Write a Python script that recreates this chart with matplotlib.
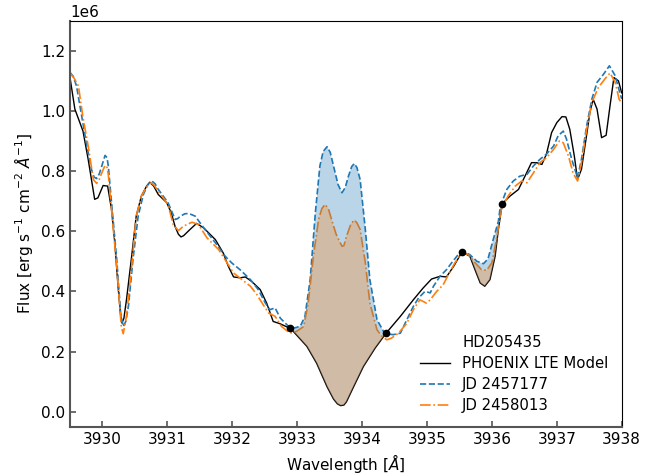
import numpy as np
import matplotlib
matplotlib.use("Agg")
import matplotlib.pyplot as plt

# PHOENIX LTE model (wavelength in Angstrom, flux in 1e6 units)
model_wl = [3929.50, 3929.575, 3929.70, 3929.78, 3929.88, 3929.93, 3930.01, 3930.08,
            3930.14, 3930.19, 3930.24, 3930.28, 3930.30, 3930.33, 3930.37, 3930.45, 3930.52, 3930.60,
            3930.68, 3930.73, 3930.79, 3930.86, 3930.99, 3931.06, 3931.12, 3931.17, 3931.21, 3931.25,
            3931.35, 3931.45, 3931.56, 3931.74, 3931.86, 3931.94, 3932.02, 3932.12, 3932.20, 3932.30,
            3932.43, 3932.53, 3932.63, 3932.74, 3932.89, 3932.94, 3933.15, 3933.30,
            3933.46, 3933.56, 3933.62, 3933.67, 3933.72, 3933.76, 3933.87, 3934.02, 3934.20, 3934.37,
            3934.59, 3934.79, 3934.94, 3935.07, 3935.20, 3935.30, 3935.41, 3935.54,
            3935.66, 3935.74, 3935.82, 3935.89, 3935.97, 3936.05, 3936.10, 3936.16,
            3936.28, 3936.41, 3936.51, 3936.61, 3936.69, 3936.77, 3936.84, 3936.92,
            3937.00, 3937.08, 3937.14, 3937.20, 3937.27, 3937.32, 3937.38, 3937.45,
            3937.51, 3937.56, 3937.62, 3937.69, 3937.76, 3937.82, 3937.88, 3937.95,
            3938.00]
model_flux = [1.111, 1.006, 0.933, 0.839, 0.706, 0.711, 0.752, 0.750,
              0.672, 0.562, 0.417, 0.320, 0.295, 0.310, 0.372, 0.517, 0.650, 0.717,
              0.750, 0.763, 0.750, 0.722, 0.695, 0.661, 0.615, 0.590, 0.581, 0.585,
              0.606, 0.626, 0.611, 0.572, 0.528, 0.483, 0.448, 0.445, 0.448, 0.433,
              0.406, 0.361, 0.300, 0.292, 0.277, 0.267, 0.217, 0.161,
              0.083, 0.042, 0.026, 0.020, 0.022, 0.033, 0.083, 0.150, 0.211, 0.261,
              0.317, 0.372, 0.411, 0.441, 0.450, 0.448, 0.483, 0.531,
              0.517, 0.472, 0.428, 0.417, 0.439, 0.517, 0.606, 0.692,
              0.717, 0.739, 0.783, 0.828, 0.828, 0.822, 0.856, 0.928,
              0.961, 0.981, 0.980, 0.939, 0.850, 0.772, 0.806, 0.906,
              0.995, 1.039, 1.006, 0.911, 0.919, 1.017, 1.111, 1.100,
              1.060]

# JD 2457177
jd1_wl = [3929.50, 3929.55, 3929.60, 3929.68, 3929.75, 3929.83, 3929.87, 3929.91, 3929.95, 3929.99,
          3930.04, 3930.07, 3930.09, 3930.14, 3930.22, 3930.28, 3930.32, 3930.36, 3930.40, 3930.47,
          3930.55, 3930.63, 3930.70, 3930.76, 3930.81, 3930.86, 3931.01, 3931.12, 3931.16, 3931.20,
          3931.27, 3931.33, 3931.43, 3931.56, 3931.76, 3931.89, 3931.99, 3932.12, 3932.28, 3932.40,
          3932.51, 3932.58, 3932.66, 3932.74, 3932.87, 3932.94, 3932.99, 3933.05, 3933.12, 3933.20,
          3933.28, 3933.35, 3933.40, 3933.46, 3933.51, 3933.56, 3933.63, 3933.69, 3933.74, 3933.79,
          3933.84, 3933.88, 3933.92, 3933.97, 3934.05, 3934.12, 3934.23, 3934.33, 3934.40, 3934.48,
          3934.59, 3934.69, 3934.79, 3934.87, 3934.97, 3935.05, 3935.10, 3935.20, 3935.30, 3935.38,
          3935.48, 3935.56, 3935.66, 3935.77, 3935.87, 3935.94, 3936.02, 3936.10, 3936.13, 3936.23,
          3936.33, 3936.43, 3936.54, 3936.64, 3936.74, 3936.84, 3936.95, 3937.02, 3937.10, 3937.15,
          3937.23, 3937.32, 3937.38, 3937.46, 3937.54, 3937.62, 3937.72, 3937.81, 3937.90, 3937.97,
          3938.00]
jd1_flux = [1.128, 1.115, 1.083, 0.983, 0.895, 0.806, 0.780, 0.775, 0.790, 0.817,
            0.852, 0.845, 0.817, 0.695, 0.506, 0.328, 0.283, 0.300, 0.350, 0.506,
            0.650, 0.722, 0.755, 0.767, 0.758, 0.739, 0.695, 0.639, 0.642, 0.650,
            0.658, 0.659, 0.650, 0.611, 0.556, 0.517, 0.495, 0.472, 0.439, 0.406,
            0.361, 0.339, 0.345, 0.311, 0.283, 0.278, 0.280, 0.285, 0.317, 0.439,
            0.661, 0.817, 0.865, 0.881, 0.862, 0.817, 0.755, 0.728, 0.745, 0.783,
            0.815, 0.825, 0.812, 0.772, 0.606, 0.439, 0.306, 0.267, 0.258, 0.256,
            0.261, 0.306, 0.350, 0.378, 0.400, 0.395, 0.417, 0.450, 0.472, 0.495,
            0.522, 0.533, 0.522, 0.500, 0.492, 0.508, 0.572, 0.633, 0.683, 0.739,
            0.767, 0.783, 0.789, 0.817, 0.839, 0.856, 0.883, 0.917, 0.933, 0.906,
            0.839, 0.778, 0.839, 0.950, 1.039, 1.095, 1.122, 1.150, 1.117, 1.061,
            1.040]

# JD 2458013
jd2_wl = [3929.50, 3929.56, 3929.63, 3929.70, 3929.78, 3929.86, 3929.91, 3929.95, 3929.99,
          3930.04, 3930.07, 3930.09, 3930.14, 3930.22, 3930.29, 3930.32, 3930.37, 3930.45, 3930.52,
          3930.60, 3930.68, 3930.75, 3930.80, 3930.86, 3931.01, 3931.09, 3931.17, 3931.25, 3931.38,
          3931.48, 3931.61, 3931.79, 3931.92, 3932.02, 3932.15, 3932.28, 3932.38,
          3932.46, 3932.56, 3932.66, 3932.76, 3932.89, 3932.99, 3933.10, 3933.17,
          3933.25, 3933.33, 3933.38, 3933.43, 3933.48, 3933.53, 3933.60, 3933.64, 3933.69, 3933.72,
          3933.76, 3933.83, 3933.88, 3933.92, 3933.97, 3934.05, 3934.12, 3934.23, 3934.31, 3934.38,
          3934.45, 3934.56, 3934.69, 3934.79, 3934.89, 3934.99, 3935.05, 3935.15, 3935.25, 3935.33,
          3935.43, 3935.54, 3935.64, 3935.74, 3935.84, 3935.92, 3936.00, 3936.07,
          3936.12, 3936.15, 3936.25, 3936.36, 3936.46, 3936.54, 3936.64, 3936.74,
          3936.84, 3936.95, 3937.04, 3937.10, 3937.18, 3937.25, 3937.32, 3937.38,
          3937.46, 3937.54, 3937.64, 3937.74, 3937.82, 3937.90, 3937.96, 3938.00]
jd2_flux = [1.125, 1.110, 1.083, 0.978, 0.883, 0.772, 0.759, 0.772, 0.794,
            0.819, 0.812, 0.789, 0.672, 0.483, 0.283, 0.259, 0.317, 0.483, 0.650,
            0.717, 0.748, 0.761, 0.752, 0.733, 0.689, 0.622, 0.602, 0.617, 0.630,
            0.622, 0.578, 0.539, 0.495, 0.461, 0.439, 0.417, 0.389,
            0.361, 0.328, 0.317, 0.283, 0.261, 0.267, 0.283, 0.361,
            0.517, 0.639, 0.675, 0.689, 0.675, 0.639, 0.590, 0.572, 0.550, 0.552,
            0.583, 0.625, 0.637, 0.628, 0.606, 0.495, 0.361, 0.272, 0.250, 0.239,
            0.244, 0.261, 0.294, 0.339, 0.372, 0.361, 0.372, 0.400, 0.422, 0.456,
            0.495, 0.528, 0.522, 0.495, 0.472, 0.470, 0.495, 0.572,
            0.639, 0.678, 0.717, 0.750, 0.767, 0.761, 0.794, 0.828,
            0.844, 0.872, 0.900, 0.894, 0.850, 0.794, 0.767, 0.828,
            0.939, 1.028, 1.078, 1.106, 1.126, 1.095, 1.039, 1.025]

# points where the observed spectra cross the model
cross_wl = [3932.89, 3934.37, 3935.54, 3936.16]
cross_flux = [0.277, 0.261, 0.531, 0.692]
fill_ranges = [(0, 1), (2, 3)]

scale = 1e6
model_wl, model_flux = np.array(model_wl), np.array(model_flux) * scale
jd1_wl, jd1_flux = np.array(jd1_wl), np.array(jd1_flux) * scale
jd2_wl, jd2_flux = np.array(jd2_wl), np.array(jd2_flux) * scale
cross_wl, cross_flux = np.array(cross_wl), np.array(cross_flux) * scale


def region(wl, fl, lo, hi):
    m = (wl > lo) & (wl < hi)
    return wl[m], fl[m]


fig = plt.figure(figsize=(6.65, 4.76), dpi=100)
ax = fig.add_axes([70 / 665, 1 - 426.7 / 476, 551.7 / 665, 406 / 476])

ax.plot([], [], ' ', label='HD205435')
ax.plot(model_wl, model_flux, color='k', lw=1.0, label='PHOENIX LTE Model')
ax.plot(jd1_wl, jd1_flux, color='C0', ls='--', lw=1.2, label='JD 2457177')
ax.plot(jd2_wl, jd2_flux, color='C1', ls='-.', lw=1.2, label='JD 2458013')

for obs_wl, obs_fl, col in [(jd1_wl, jd1_flux, 'C0'), (jd2_wl, jd2_flux, 'C1')]:
    for i, j in fill_ranges:
        lo, hi = cross_wl[i], cross_wl[j]
        ow, of = region(obs_wl, obs_fl, lo, hi)
        mw, mf = region(model_wl, model_flux, lo, hi)
        px = np.concatenate([[lo], ow, [hi], mw[::-1]])
        py = np.concatenate([[cross_flux[i]], of, [cross_flux[j]], mf[::-1]])
        ax.fill(px, py, color=col, alpha=0.3, lw=0, zorder=3)

ax.plot(cross_wl, cross_flux, 'o', color='k', ms=4.5, zorder=4)

ax.set_xlim(3929.5, 3938)
ax.set_ylim(-0.05e6, 1.3e6)
ax.set_xlabel(r'Wavelength [$\AA$]', fontsize=11)
ax.set_ylabel(r'Flux [erg s$^{-1}$ cm$^{-2}$ $\AA^{-1}$]', fontsize=11)
ax.tick_params(direction='in', labelsize=11, color='#555555', width=1.2, length=4)
ax.xaxis.get_offset_text().set_fontsize(11)
ax.yaxis.get_offset_text().set_fontsize(11)
for side in ['left', 'bottom']:
    ax.spines[side].set_color('#555555')
    ax.spines[side].set_linewidth(1.5)

ax.legend(frameon=False, loc='lower right', fontsize=10.7,
          bbox_to_anchor=(1.0, 0.0), labelspacing=0.4)

fig.savefig('out.png', dpi=100)
